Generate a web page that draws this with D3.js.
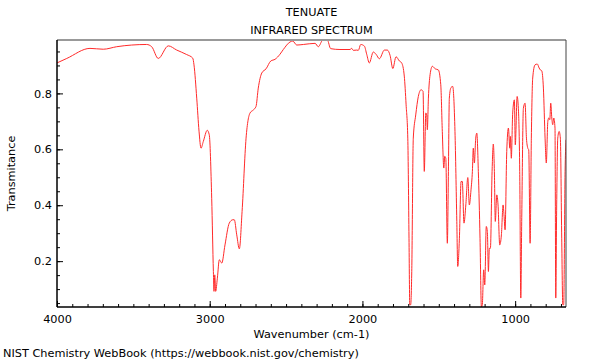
<!DOCTYPE html>
<html lang="en">
<head>
  <meta charset="UTF-8">
  <title>TENUATE IR spectrum</title>
  <script src="https://d3js.org/d3.v7.min.js"></script>
  <style>
    body {
      margin: 0;
      background-color: #fff;
      font-family: "DejaVu Sans", sans-serif;
    }
    svg text { fill: #000; }
  </style>
</head>
<body>
  <script>
    const width = 600;
    const height = 360;

    // Spectrum: wavenumber (cm-1) and transmittance
    const wavenumber = [4000, 3936, 3784, 3697, 3609, 3413, 3380, 3337, 3271, 3216, 3151, 3111, 3103, 3085, 3070, 3057, 3042, 3016, 3003, 2987, 2976, 2972, 2967, 2961, 2950, 2937, 2921, 2900, 2872, 2849, 2839, 2823, 2806, 2788, 2762, 2736, 2714, 2697, 2682, 2659, 2631, 2600, 2572, 2540, 2518, 2474, 2456, 2430, 2387, 2310, 2289, 2260, 2230, 2208, 2147, 2081, 2070, 2060, 2037, 2027, 2011, 1987, 1972, 1955, 1929, 1911, 1889, 1856, 1837, 1819, 1801, 1780, 1758, 1743, 1726, 1714, 1703, 1695, 1690, 1684, 1677, 1667, 1651, 1634, 1616, 1603, 1595, 1585, 1579, 1575, 1568, 1557, 1542, 1524, 1503, 1487, 1477, 1467, 1461, 1454, 1444, 1437, 1431, 1420, 1409, 1394, 1382, 1376, 1365, 1354, 1346, 1335, 1323, 1310, 1300, 1289, 1280, 1274, 1267, 1258, 1251, 1241, 1230, 1221, 1215, 1206, 1199, 1189, 1182, 1175, 1169, 1162, 1151, 1143, 1136, 1130, 1120, 1112, 1101, 1090, 1079, 1073, 1066, 1055, 1044, 1035, 1031, 1025, 1016, 1005, 999, 987, 979, 970, 963, 957, 946, 935, 926, 917, 911, 902, 894, 885, 870, 855, 843, 835, 826, 815, 804, 796, 786, 780, 773, 767, 760, 754, 747, 739, 734, 728, 721, 712, 704, 695, 688, 682, 673, 667];
    const transmittance = [0.909, 0.925, 0.961, 0.958, 0.967, 0.975, 0.967, 0.925, 0.970, 0.955, 0.939, 0.926, 0.902, 0.783, 0.665, 0.604, 0.628, 0.668, 0.652, 0.425, 0.163, 0.092, 0.151, 0.092, 0.139, 0.205, 0.193, 0.258, 0.336, 0.348, 0.348, 0.294, 0.244, 0.378, 0.640, 0.730, 0.741, 0.753, 0.819, 0.873, 0.888, 0.916, 0.922, 0.940, 0.957, 0.984, 0.987, 0.973, 0.975, 0.979, 0.967, 0.990, 0.991, 0.960, 0.957, 0.957, 0.961, 0.954, 0.955, 0.954, 0.975, 0.969, 0.940, 0.909, 0.948, 0.940, 0.924, 0.955, 0.955, 0.936, 0.889, 0.931, 0.916, 0.909, 0.862, 0.759, 0.640, 0.282, 0.044, 0.044, 0.163, 0.640, 0.723, 0.789, 0.813, 0.807, 0.521, 0.730, 0.723, 0.670, 0.783, 0.867, 0.897, 0.888, 0.884, 0.831, 0.664, 0.533, 0.575, 0.568, 0.264, 0.521, 0.783, 0.821, 0.825, 0.664, 0.342, 0.181, 0.282, 0.485, 0.485, 0.336, 0.401, 0.499, 0.401, 0.455, 0.521, 0.604, 0.551, 0.640, 0.658, 0.521, 0.282, 0.036, 0.044, 0.169, 0.115, 0.324, 0.306, 0.163, 0.246, 0.246, 0.521, 0.619, 0.521, 0.342, 0.437, 0.401, 0.258, 0.294, 0.401, 0.366, 0.312, 0.592, 0.676, 0.604, 0.646, 0.568, 0.730, 0.777, 0.616, 0.789, 0.747, 0.521, 0.068, 0.342, 0.747, 0.765, 0.640, 0.604, 0.598, 0.264, 0.640, 0.855, 0.902, 0.905, 0.891, 0.884, 0.881, 0.819, 0.640, 0.551, 0.700, 0.712, 0.706, 0.765, 0.712, 0.688, 0.712, 0.676, 0.068, 0.401, 0.640, 0.664, 0.640, 0.282, 0.044, 0.044, 0.521, 0.634];

    const xMajor = [4000, 3000, 2000, 1000];
    const yMajor = [0.2, 0.4, 0.6, 0.8];

    const margin = {top: 40, right: 34, bottom: 53, left: 57};
    const plotW = width - margin.left - margin.right;
    const plotH = height - margin.top - margin.bottom;

    const svg = d3.select("body")
      .append("svg")
      .attr("width", width)
      .attr("height", height);

    const x = d3.scaleLinear().domain([4000, 667]).range([0, plotW]);
    const y = d3.scaleLinear().domain([0.036, 0.991]).range([plotH, 0]);

    const g = svg.append("g")
      .attr("transform", `translate(${margin.left},${margin.top})`);

    g.append("clipPath").attr("id", "clip")
      .append("rect").attr("width", plotW).attr("height", plotH);

    // spectrum
    const pts = wavenumber.map((w, i) => [w, transmittance[i]]);
    g.append("path")
      .datum(pts)
      .attr("clip-path", "url(#clip)")
      .attr("fill", "none")
      .attr("stroke", "#ff2a2a")
      .attr("stroke-width", 1)
      .attr("stroke-linejoin", "round")
      .attr("d", d3.line().curve(d3.curveMonotoneX).x(d => x(d[0])).y(d => y(d[1])));

    // frame: grey top, dark right
    g.append("line").attr("x1", 0).attr("x2", plotW).attr("y1", 0).attr("y2", 0)
      .attr("stroke", "#999").attr("stroke-width", 2);
    g.append("line").attr("x1", plotW).attr("x2", plotW).attr("y1", 0).attr("y2", plotH)
      .attr("stroke", "#444").attr("stroke-width", 1);

    // minor ticks
    const xMinor = d3.range(4000, 600, -100);
    const yMinor = d3.range(0.05, 1.0, 0.05).map(v => +v.toFixed(2));

    const xAxis = g.append("g").attr("transform", `translate(0,${plotH})`);
    xAxis.call(d3.axisBottom(x).tickValues(xMinor).tickSize(-3).tickFormat(""));
    xAxis.append("g").call(d3.axisBottom(x).tickValues(xMajor).tickSize(-6).tickPadding(8).tickFormat(d3.format("d")));

    const yAxis = g.append("g");
    yAxis.call(d3.axisLeft(y).tickValues(yMinor).tickSize(-3).tickFormat(""));
    yAxis.append("g").call(d3.axisLeft(y).tickValues(yMajor).tickSize(-6).tickPadding(5).tickFormat(d3.format(".1f")));

    svg.selectAll(".tick line").attr("stroke", "#000");
    svg.selectAll(".domain").attr("stroke", "#000");
    svg.selectAll(".tick text")
      .attr("font-family", "DejaVu Sans")
      .attr("font-size", 11.3);
    // plain axis lines without end caps
    xAxis.selectAll(".domain").attr("d", `M0,0H${plotW}`);
    yAxis.selectAll(".domain").attr("d", `M0,${plotH}V0`);

    // titles
    svg.append("text").attr("x", margin.left + plotW / 2).attr("y", 16)
      .attr("text-anchor", "middle").attr("font-size", 11.3).text("TENUATE");
    svg.append("text").attr("x", margin.left + plotW / 2).attr("y", 34)
      .attr("text-anchor", "middle").attr("font-size", 11.3).text("INFRARED SPECTRUM");

    svg.append("text").attr("x", margin.left + plotW / 2).attr("y", 338)
      .attr("text-anchor", "middle").attr("font-size", 11.3).text("Wavenumber (cm-1)");

    svg.append("text")
      .attr("transform", `translate(15,${margin.top + plotH / 2}) rotate(-90)`)
      .attr("text-anchor", "middle").attr("font-size", 11.3).text("Transmitance");

    svg.append("text").attr("x", 3).attr("y", 357)
      .attr("font-size", 11.3).text("NIST Chemistry WebBook (https://webbook.nist.gov/chemistry)");
  </script>
</body>
</html>
